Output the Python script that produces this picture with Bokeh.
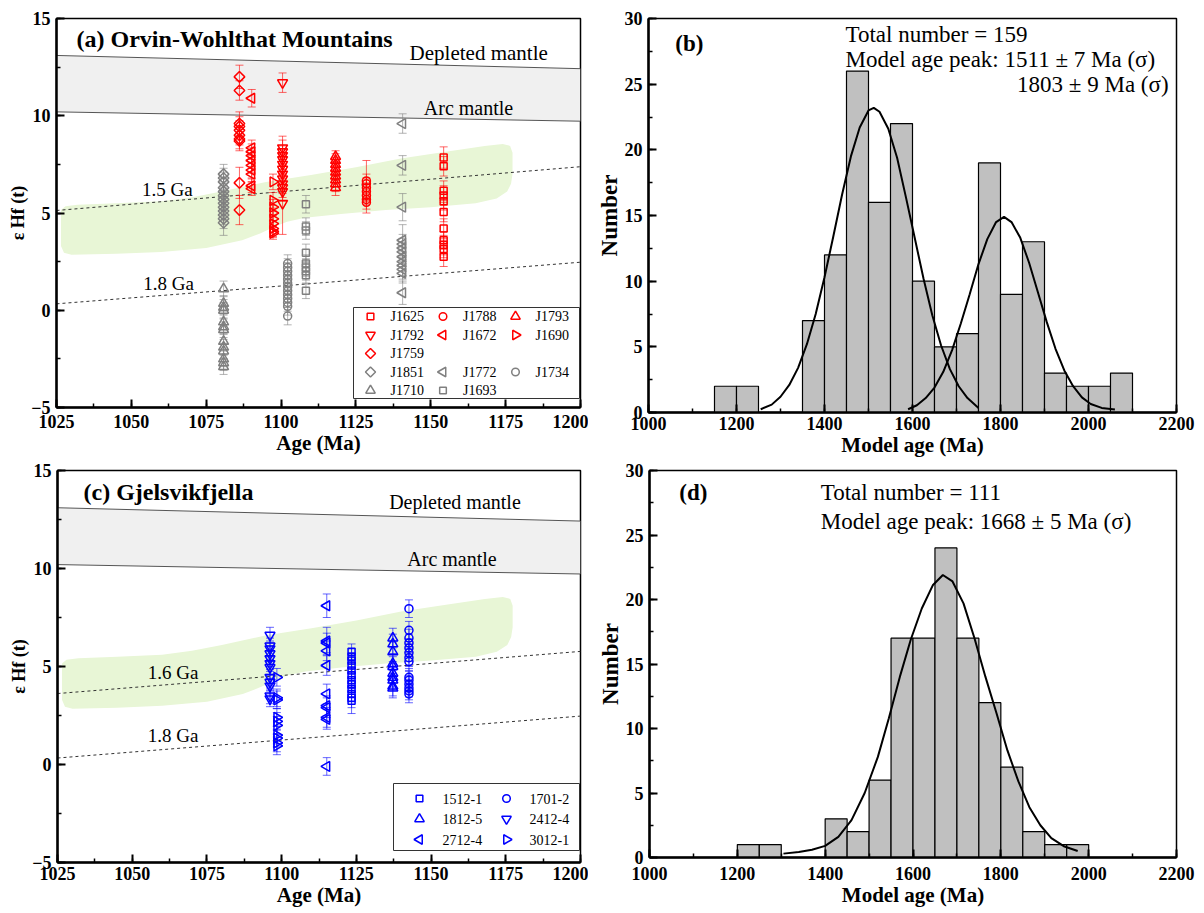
import math
from bokeh.plotting import figure
from bokeh.models import (Range1d, SingleIntervalTicker, ColumnDataSource, Whisker, TeeHead)
from bokeh.layouts import column, row
from bokeh.embed import file_html
from bokeh.resources import INLINE
from bokeh.core.properties import value

SERIF = "Liberation Serif"
RED = "#ff0000"
GRAY = "#808080"
BLUE = "#0000ff"

# ---------------- reference curves (age Ma, eHf) ----------------
ref_age = [1025, 1200]
dm_line = [13.1, 12.42]
arc_line = [10.2, 9.72]
ga15_line = [5.13, 7.38]
ga16_line = [3.62, 5.77]
ga18_line = [0.33, 2.47]

band_age = [1026.5, 1028, 1032, 1045, 1060, 1070, 1080, 1095, 1110, 1125, 1140, 1155, 1168, 1174, 1176.5,
            1177.3, 1177.3, 1176.8, 1175.5,
            1172, 1165, 1150, 1135, 1120, 1108, 1102, 1098, 1093, 1087, 1075, 1060, 1045, 1030, 1027.5, 1026.5]
band_ehf = [5.15, 5.35, 5.42, 5.5, 5.6, 5.8, 6.1, 6.6, 6.95, 7.35, 7.8, 8.15, 8.45, 8.55, 8.45,
            8.1, 7.0, 6.5, 6.1,
            5.75, 5.5, 5.3, 5.15, 4.95, 4.75, 4.55, 4.3, 3.95, 3.6, 3.2, 3.0, 2.9, 2.85, 2.95, 3.3]

# ---------------- panel (a) data ----------------
J1625_age = 1154.3
J1625_ehf = [7.85, 7.4, 6.15, 5.9, 5.6, 5.05, 4.2, 3.6, 3.35, 3.15, 2.75]
J1625_err = [0.55, 0.5, 0.5, 0.5, 0.45, 0.5, 0.5, 0.45, 0.5, 0.45, 0.5]

J1788_age = 1128.5
J1788_ehf = [6.65, 6.5, 6.3, 6.1, 5.9, 5.7, 5.55]
J1788_err = [1.05, 0.5, 0.5, 0.45, 0.45, 0.5, 0.55]

J1793_age = 1118.2
J1793_ehf = [7.9, 7.7, 7.5, 7.3, 7.1, 6.9, 6.7, 6.5, 6.3]
J1793_err = [0.3, 0.35, 0.35, 0.35, 0.35, 0.35, 0.35, 0.4, 0.4]

J1792_age = 1100.5
J1792_ehf = [11.7, 8.35, 8.15, 7.95, 7.75, 7.5, 7.25, 7.0, 6.75, 6.5, 6.3, 6.1, 5.5]
J1792_err = [0.5, 0.6, 0.6, 0.5, 0.5, 0.5, 0.5, 0.5, 0.5, 0.5, 0.5, 0.5, 1.6]

J1672_age = 1090.2
J1672_ehf = [10.9, 8.35, 8.15, 7.95, 7.7, 7.45, 7.2, 7.0, 6.4, 6.25]
J1672_err = [0.45, 0.4, 0.4, 0.4, 0.4, 0.4, 0.4, 0.4, 0.35, 0.35]

J1690_age = 1097.3
J1690_ehf = [6.6, 5.65, 5.3, 5.0, 4.7, 4.45, 4.2, 4.05, 3.95]
J1690_err = [0.4, 0.4, 0.4, 0.4, 0.4, 0.4, 0.4, 0.3, 0.3]

J1759_age = 1086.1
J1759_ehf = [12.0, 11.3, 9.6, 9.45, 9.25, 9.0, 8.8, 8.7, 6.55, 5.15]
J1759_err = [0.6, 0.5, 0.6, 0.5, 0.5, 0.5, 0.5, 0.5, 0.8, 0.75]

J1851_age = 1080.8
J1851_ehf = [7.0, 6.8, 6.6, 6.3, 6.1, 5.9, 5.7, 5.5, 5.3, 5.1, 4.9, 4.7, 4.5]
J1851_err = [0.5, 0.5, 0.5, 0.5, 0.5, 0.5, 0.5, 0.5, 0.5, 0.5, 0.5, 0.5, 0.65]

J1710_age = 1080.8
J1710_ehf = [1.1, 0.35, 0.15, 0.0, -0.6, -0.85, -1.0, -1.6, -1.9, -2.1, -2.5, -2.7, -2.9]
J1710_err = [0.4] * 13

J1734_age = 1102.2
J1734_ehf = [2.4, 2.2, 2.0, 1.8, 1.6, 1.4, 1.2, 1.0, 0.8, 0.6, 0.4, 0.2, -0.3]
J1734_err = [0.45] * 13

J1693_age = 1108.3
J1693_ehf = [5.45, 4.3, 4.1, 2.95, 2.4, 2.2, 2.0, 1.8, 1.0]
J1693_err = [0.45, 0.45, 0.45, 0.45, 0.45, 0.45, 0.45, 0.45, 0.4]

J1772_age = 1140.6
J1772_ehf = [9.6, 7.45, 5.3, 3.6, 3.4, 3.2, 3.0, 2.75, 2.5, 2.3, 2.1, 1.9, 0.9]
J1772_err = [0.5, 0.5, 0.7, 0.8, 0.5, 0.5, 0.5, 0.5, 0.5, 0.5, 0.5, 0.5, 0.6]

# ---------------- panel (c) data ----------------
S1512_1_age = 1123.4
S1512_1_ehf = [5.75, 5.5, 5.3, 5.05, 4.8, 4.55, 4.3, 4.1, 3.85, 3.6, 3.4, 3.25]
S1512_1_err = [0.4, 0.4, 0.4, 0.4, 0.4, 0.4, 0.4, 0.4, 0.4, 0.4, 0.5, 0.65]

S1701_2_age = 1142.6
S1701_2_ehf = [7.95, 6.85, 6.45, 6.2, 5.95, 5.7, 5.45, 5.25, 4.45, 4.3, 4.1, 3.9, 3.75, 3.6]
S1701_2_err = [0.45] * 14

S1812_5_age = 1137.2
S1812_5_ehf = [6.45, 6.15, 5.75, 5.15, 5.0, 4.65, 4.45, 4.3, 4.0, 3.9]
S1812_5_err = [0.5] * 10

S2412_4_age = 1096.1
S2412_4_ehf = [6.6, 6.05, 5.9, 5.65, 5.4, 5.15, 4.95, 4.45, 4.2, 4.0, 3.5, 3.35]
S2412_4_err = [0.4] * 12

S2712_4_age = 1115.1
S2712_4_ehf = [8.1, 6.3, 6.2, 5.8, 5.05, 3.6, 3.0, 2.9, 2.4, 2.3, -0.1]
S2712_4_err = [0.6, 0.7, 0.5, 0.5, 0.5, 0.5, 0.5, 0.5, 0.5, 0.5, 0.45]

S3012_1_age = 1098.4
S3012_1_ehf = [4.45, 3.4, 3.3, 2.4, 2.2, 2.0, 1.5, 1.35, 1.1, 0.95]
S3012_1_err = [0.45] * 10

# ---------------- histograms ----------------
bin_width = 50
b_bin_left = [1150, 1200, 1250, 1300, 1350, 1400, 1450, 1500, 1550, 1600,
              1650, 1700, 1750, 1800, 1850, 1900, 1950, 2000, 2050]
b_counts = [2, 2, 0, 0, 7, 12, 26, 16, 22, 10, 5, 6, 19, 9, 13, 3, 2, 2, 3]

b_fit1_age = [1255, 1280, 1300, 1320, 1340, 1360, 1380, 1400, 1420, 1440, 1460, 1480, 1500, 1512,
              1525, 1545, 1565, 1585, 1605, 1625, 1645, 1665, 1685, 1705, 1725, 1750]
b_fit1_num = [0.25, 0.6, 1.2, 2.1, 3.4, 5.2, 7.5, 10.3, 13.4, 16.6, 19.5, 21.7, 23.0, 23.2,
              22.9, 21.6, 19.4, 16.4, 13.3, 10.2, 7.4, 5.1, 3.3, 2.0, 1.1, 0.35]
b_fit2_age = [1590, 1610, 1630, 1650, 1670, 1690, 1710, 1730, 1750, 1770, 1790, 1808,
              1825, 1845, 1865, 1885, 1905, 1925, 1945, 1965, 1985, 2005, 2030, 2060]
b_fit2_num = [0.25, 0.55, 1.1, 1.9, 3.1, 4.75, 6.8, 9.0, 11.3, 13.2, 14.5, 14.9,
              14.5, 13.3, 11.4, 9.15, 6.9, 4.85, 3.2, 2.0, 1.15, 0.65, 0.35, 0.22]

d_bin_left = [1200, 1250, 1300, 1350, 1400, 1450, 1500, 1550, 1600, 1650,
              1700, 1750, 1800, 1850, 1900, 1950]
d_counts = [1, 1, 0, 0, 3, 2, 6, 17, 17, 24, 17, 12, 7, 2, 1, 1]

d_fit_age = [1305, 1340, 1370, 1400, 1430, 1460, 1490, 1520, 1545, 1570, 1595, 1620, 1645, 1668,
             1690, 1715, 1740, 1765, 1790, 1815, 1840, 1865, 1890, 1915, 1945, 1975]
d_fit_num = [0.3, 0.42, 0.6, 0.9, 1.6, 2.9, 5.0, 7.8, 10.8, 14.0, 16.9, 19.3, 21.1, 21.9,
             21.4, 19.7, 17.0, 14.0, 11.2, 8.3, 5.9, 3.9, 2.5, 1.5, 0.85, 0.5]

# ---------------- styles ----------------
# marker shapes: (bokeh marker, angle, size)
SHAPES = {
    "square": ("square", 0.0, 7),
    "circle": ("circle", 0.0, 8),
    "up": ("triangle", 0.0, 10),
    "down": ("inverted_triangle", 0.0, 10),
    "left": ("triangle", math.pi / 2, 10),
    "right": ("triangle", -math.pi / 2, 10),
    "diamond": ("square", math.pi / 4, 7.5),
}
LEGEND_SCALE = 0.95


def make_fig(xr, yr, fw, fh, bl, br, bt, bb, xint, yint, xstand, xlabel, ylabel, ylab_size):
    p = figure(x_range=Range1d(*xr), y_range=Range1d(*yr), frame_width=fw, frame_height=fh,
               min_border_left=bl, min_border_right=br, min_border_top=bt, min_border_bottom=bb,
               output_backend="svg", toolbar_location=None, tools="")
    p.xgrid.visible = False
    p.ygrid.visible = False
    p.outline_line_color = "black"
    p.outline_line_width = 1.5
    p.outline_line_alpha = 1
    p.background_fill_color = "white"
    p.border_fill_color = "white"
    # pixel ranges used only to lay out the legend boxes
    p.extra_x_ranges = {"px": Range1d(0, fw)}
    p.extra_y_ranges = {"px": Range1d(0, fh)}
    p.xaxis.ticker = SingleIntervalTicker(interval=xint, num_minor_ticks=2)
    p.yaxis.ticker = SingleIntervalTicker(interval=yint, num_minor_ticks=2)
    for ax in (p.xaxis[0], p.yaxis[0]):
        ax.axis_line_width = 2.5
        ax.axis_line_color = "black"
        ax.major_tick_in = 8
        ax.major_tick_out = 0
        ax.minor_tick_in = 4
        ax.minor_tick_out = 0
        ax.major_tick_line_width = 2
        ax.minor_tick_line_width = 1.5
        ax.major_tick_line_color = "black"
        ax.minor_tick_line_color = "black"
        ax.major_label_text_font = SERIF
        ax.major_label_text_font_style = "bold"
        ax.major_label_text_font_size = "18px"
        ax.major_label_text_color = "black"
        ax.axis_label_text_font = SERIF
        ax.axis_label_text_font_style = "bold"
        ax.axis_label_text_color = "black"
        ax.axis_label_standoff = 0
    p.xaxis.major_label_standoff = xstand
    p.yaxis.major_label_standoff = 6
    p.xaxis.axis_label = xlabel
    p.yaxis.axis_label = ylabel
    p.xaxis.axis_label_text_font_size = "21px"
    p.yaxis.axis_label_text_font_size = ylab_size
    return p


def add_text(p, x, y, txt, size, align="left", bold=False, **kw):
    p.text(x=[x], y=[y], text=[txt], text_font=value(SERIF), text_font_size=size,
           text_align=align, text_baseline="middle", text_color="black",
           text_font_style="bold" if bold else "normal", **kw)


def add_series(p, age, vals, errs, shape, color):
    m, ang, sz = SHAPES[shape]
    n = len(vals)
    src = ColumnDataSource(dict(x=[age] * n, y=vals,
                                lo=[v - e for v, e in zip(vals, errs)],
                                hi=[v + e for v, e in zip(vals, errs)]))
    w = Whisker(source=src, base="x", lower="lo", upper="hi", dimension="height", level="glyph",
                line_color=color, line_width=1, line_alpha=0.6,
                upper_head=TeeHead(size=8, line_color=color, line_width=1, line_alpha=0.6),
                lower_head=TeeHead(size=8, line_color=color, line_width=1, line_alpha=0.6))
    p.add_layout(w)
    return p.scatter("x", "y", source=src, marker=m, angle=ang, size=sz, fill_alpha=0,
                     line_color=color, line_width=1.5)


def draw_background(p, ga_line):
    p.varea(x=ref_age, y1=arc_line, y2=dm_line, fill_color="#f0f0f0")
    p.line(ref_age, dm_line, line_color="#555555", line_width=1)
    p.line(ref_age, arc_line, line_color="#555555", line_width=1)
    p.patch(band_age, band_ehf, fill_color="#e8f6d6", line_color=None)
    p.line(ref_age, ga_line, line_color="#333333", line_width=1, line_dash="3 3")
    p.line(ref_age, ga18_line, line_color="#333333", line_width=1, line_dash="3 3")


def draw_legend(p, entries, box, x0, dx, y0, dy, text_gap):
    """entries: list of (row, col, label, shape, color); box: (left, right, bottom, top) in frame px."""
    l, r, b, t = box
    p.quad(left=[l], right=[r], bottom=[b], top=[t], x_range_name="px", y_range_name="px",
           fill_color="white", line_color="#333333", line_width=1, level="overlay")
    for rw, cl, label, shape, color in entries:
        m, ang, sz = SHAPES[shape]
        mx = x0 + cl * dx
        my = y0 - rw * dy
        p.scatter(x=[mx], y=[my], marker=m, angle=ang, size=sz * LEGEND_SCALE, fill_alpha=0,
                  line_color=color, line_width=1.5, x_range_name="px", y_range_name="px",
                  level="overlay")
        add_text(p, mx + text_gap, my, label, "14px", x_range_name="px", y_range_name="px",
                 level="overlay")


# ================= panel (a) =================
pa = make_fig((1025, 1200), (-5, 15), 524, 389, 56, 8, 18, 52, 25, 5, 7,
              "Age (Ma)", "ε Hf (t)", "18px")
draw_background(pa, ga15_line)
a_series = [
    ("J1625", J1625_age, J1625_ehf, J1625_err, "square", RED),
    ("J1788", J1788_age, J1788_ehf, J1788_err, "circle", RED),
    ("J1793", J1793_age, J1793_ehf, J1793_err, "up", RED),
    ("J1792", J1792_age, J1792_ehf, J1792_err, "down", RED),
    ("J1672", J1672_age, J1672_ehf, J1672_err, "left", RED),
    ("J1690", J1690_age, J1690_ehf, J1690_err, "right", RED),
    ("J1759", J1759_age, J1759_ehf, J1759_err, "diamond", RED),
    ("J1851", J1851_age, J1851_ehf, J1851_err, "diamond", GRAY),
    ("J1772", J1772_age, J1772_ehf, J1772_err, "left", GRAY),
    ("J1734", J1734_age, J1734_ehf, J1734_err, "circle", GRAY),
    ("J1710", J1710_age, J1710_ehf, J1710_err, "up", GRAY),
    ("J1693", J1693_age, J1693_ehf, J1693_err, "square", GRAY),
]
for name, age, vals, errs, shape, col in a_series:
    add_series(pa, age, vals, errs, shape, col)
a_grid = [(0, 0, "J1625"), (0, 1, "J1788"), (0, 2, "J1793"),
          (1, 0, "J1792"), (1, 1, "J1672"), (1, 2, "J1690"),
          (2, 0, "J1759"),
          (3, 0, "J1851"), (3, 1, "J1772"), (3, 2, "J1734"),
          (4, 0, "J1710"), (4, 1, "J1693")]
a_style = {s[0]: (s[4], s[5]) for s in a_series}
draw_legend(pa, [(rw, cl, n, a_style[n][0], a_style[n][1]) for rw, cl, n in a_grid],
            (297, 523, 9, 100), 314, 72.5, 91, 18.5, 20)
add_text(pa, 1031.7, 13.97, "(a) Orvin-Wohlthat Mountains", "24px", bold=True)
add_text(pa, 1166, 13.25, "Depleted mantle", "21px", align="center")
add_text(pa, 1162.6, 10.42, "Arc mantle", "20px", align="center")
add_text(pa, 1062, 6.2, "1.5 Ga", "19px", align="center")
add_text(pa, 1062.4, 1.38, "1.8 Ga", "19px", align="center")

# ================= panel (b) =================
pb = make_fig((1000, 2200), (0, 30), 528, 394, 60, 28, 17, 48, 200, 5, 4,
              "Model age (Ma)", "Number", "23px")
pb.quad(left=b_bin_left, right=[x + bin_width for x in b_bin_left], top=b_counts, bottom=0,
        fill_color="#c0c0c0", line_color="black", line_width=1.2)
pb.line(b_fit1_age, b_fit1_num, line_color="black", line_width=2)
pb.line(b_fit2_age, b_fit2_num, line_color="black", line_width=2)
add_text(pb, 1061, 28.1, "(b)", "23px", bold=True)
add_text(pb, 1447.7, 28.78, "Total number = 159", "23px")
add_text(pb, 1447.7, 26.88, "Model age peak: 1511 ± 7 Ma (σ)", "23px")
add_text(pb, 2182, 24.97, "1803 ± 9 Ma (σ)", "23px", align="right")

# ================= panel (c) =================
pc = make_fig((1025, 1200), (-5, 15), 523, 392, 57, 8, 11, 50, 25, 5, 4,
              "Age (Ma)", "ε Hf (t)", "18px")
draw_background(pc, ga16_line)
c_series = [
    ("1512-1", S1512_1_age, S1512_1_ehf, S1512_1_err, "square"),
    ("1701-2", S1701_2_age, S1701_2_ehf, S1701_2_err, "circle"),
    ("1812-5", S1812_5_age, S1812_5_ehf, S1812_5_err, "up"),
    ("2412-4", S2412_4_age, S2412_4_ehf, S2412_4_err, "down"),
    ("2712-4", S2712_4_age, S2712_4_ehf, S2712_4_err, "left"),
    ("3012-1", S3012_1_age, S3012_1_ehf, S3012_1_err, "right"),
]
for name, age, vals, errs, shape in c_series:
    add_series(pc, age, vals, errs, shape, BLUE)
c_entries = [(i // 2, i % 2, s[0], s[4], BLUE) for i, s in enumerate(c_series)]
draw_legend(pc, c_entries, (336, 522, 12, 79), 362, 87, 64, 20.5, 23)
add_text(pc, 1033.7, 13.88, "(c)  Gjelsvikfjella", "24px", bold=True)
add_text(pc, 1158, 13.37, "Depleted mantle", "20px", align="center")
add_text(pc, 1157, 10.5, "Arc mantle", "20px", align="center")
add_text(pc, 1063.7, 4.7, "1.6 Ga", "19px", align="center")
add_text(pc, 1063.7, 1.48, "1.8 Ga", "19px", align="center")

# ================= panel (d) =================
pd_ = make_fig((1000, 2200), (0, 30), 527, 387, 61, 28, 11, 55, 200, 5, 9,
               "Model age (Ma)", "Number", "23px")
pd_.quad(left=d_bin_left, right=[x + bin_width for x in d_bin_left], top=d_counts, bottom=0,
         fill_color="#c0c0c0", line_color="black", line_width=1.2)
pd_.line(d_fit_age, d_fit_num, line_color="black", line_width=2)
add_text(pd_, 1068, 28.3, "(d)", "23px", bold=True)
add_text(pd_, 1390, 28.3, "Total number = 111", "23px")
add_text(pd_, 1390, 26.04, "Model age peak: 1668 ± 5 Ma (σ)", "23px")

layout = column(row(pa, pb), row(pc, pd_))
open("out.html", "w").write(file_html(layout, INLINE))
